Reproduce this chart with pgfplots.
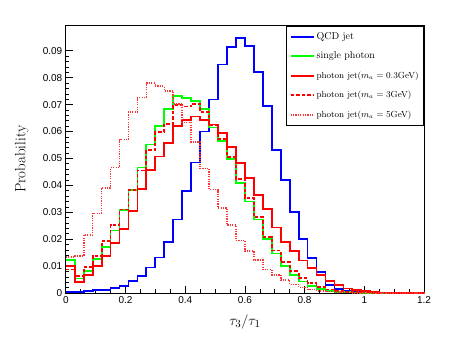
\documentclass[border=0pt]{standalone}
\usepackage{fontspec}
\usepackage{pgfplots}
\pgfplotsset{compat=1.18}
\usepackage{pgfplotstable}
\newfontfamily\hel{Liberation Sans}

% bin left edges, width 0.03; last row closes the histogram at 1.2
\pgfplotstableread{
x     qcd     photon  maA     maB     maC
0.00  0.0005  0.0122  0.0099  0.0087  0.0134
0.03  0.0005  0.0054  0.0042  0.0064  0.0137
0.06  0.0008  0.0081  0.0068  0.0097  0.0215
0.09  0.0010  0.0127  0.0099  0.0138  0.0296
0.12  0.0012  0.0170  0.0136  0.0193  0.0391
0.15  0.0018  0.0232  0.0185  0.0254  0.0466
0.18  0.0027  0.0307  0.0238  0.0310  0.0570
0.21  0.0046  0.0384  0.0306  0.0384  0.0672
0.24  0.0063  0.0466  0.0385  0.0455  0.0726
0.27  0.0095  0.0552  0.0458  0.0532  0.0780
0.30  0.0132  0.0619  0.0507  0.0597  0.0768
0.33  0.0189  0.0684  0.0558  0.0628  0.0750
0.36  0.0273  0.0732  0.0619  0.0699  0.0703
0.39  0.0378  0.0723  0.0643  0.0693  0.0634
0.42  0.0485  0.0714  0.0656  0.0703  0.0560
0.45  0.0600  0.0684  0.0643  0.0672  0.0462
0.48  0.0719  0.0615  0.0626  0.0622  0.0384
0.51  0.0849  0.0565  0.0594  0.0573  0.0316
0.54  0.0913  0.0497  0.0542  0.0505  0.0252
0.57  0.0946  0.0410  0.0483  0.0423  0.0195
0.60  0.0918  0.0340  0.0427  0.0354  0.0155
0.63  0.0820  0.0273  0.0365  0.0281  0.0123
0.66  0.0696  0.0200  0.0311  0.0209  0.0088
0.69  0.0532  0.0147  0.0243  0.0158  0.0067
0.72  0.0421  0.0100  0.0189  0.0114  0.0048
0.75  0.0300  0.0068  0.0155  0.0081  0.0032
0.78  0.0200  0.0043  0.0121  0.0055  0.0021
0.81  0.0131  0.0025  0.0092  0.0036  0.0013
0.84  0.0079  0.0014  0.0068  0.0023  0.0008
0.87  0.0030  0.0008  0.0045  0.0013  0.0005
0.90  0.0015  0.0005  0.0029  0.0008  0.0003
0.93  0.0009  0.0003  0.0017  0.0005  0.0002
0.96  0.0005  0.0002  0.0010  0.0003  0.0001
0.99  0.0003  0.0001  0.0006  0.0002  0.0001
1.02  0.0001  0.0000  0.0004  0.0001  0.0000
1.05  0.0001  0.0000  0.0002  0.0000  0.0000
1.08  0.0000  0.0000  0.0001  0.0000  0.0000
1.11  0.0000  0.0000  0.0000  0.0000  0.0000
1.14  0.0000  0.0000  0.0000  0.0000  0.0000
1.17  0.0000  0.0000  0.0000  0.0000  0.0000
1.20  0.0000  0.0000  0.0000  0.0000  0.0000
}\histdata

\definecolor{rootblue}{RGB}{0,0,255}
\definecolor{rootgreen}{RGB}{0,255,0}
\definecolor{rootred}{RGB}{255,0,0}

\begin{document}
\begin{tikzpicture}
\path[use as bounding box] (0,0) rectangle (458pt,343pt);
\begin{axis}[
    at={(65.8pt,50pt)}, anchor=south west,
    scale only axis, width=358.2pt, height=267.3pt,
    xmin=0, xmax=1.2, ymin=0, ymax=0.0993,
    xtick={0,0.2,0.4,0.6,0.8,1,1.2},
    ytick={0,0.01,0.02,0.03,0.04,0.05,0.06,0.07,0.08,0.09},
    minor x tick num=3, minor y tick num=4,
    tick align=inside, xtick pos=bottom, ytick pos=left,
    major tick length=7pt, minor tick length=3.5pt,
    scaled x ticks=false, scaled y ticks=false,
    /pgf/number format/fixed, /pgf/number format/precision=2,
    /pgf/number format/assume math mode=true,
    tick label style={font=\hel\fontsize{10}{12}\selectfont},
    axis line style={line width=0.8pt},
    every tick/.style={black, line width=0.6pt},
    clip=false,
    xlabel={$\tau_3/\tau_1$},
    ylabel={Probability},
    x label style={at={(axis description cs:0.5,-0.108)}, anchor=center, font=\fontsize{15}{18}\selectfont},
    y label style={at={(axis description cs:-0.123,0.5)}, anchor=center, font=\fontsize{15}{18}\selectfont},
    legend style={at={(1,1)}, anchor=north east, draw=black, line width=0.8pt, fill=white,
        inner xsep=3pt, inner ysep=1pt, row sep=0pt,
        nodes={text height=7pt, text depth=2.5pt, inner ysep=5pt, inner xsep=2pt},
        font=\fontsize{10}{12}\selectfont},
    legend cell align=left,
    legend image code/.code={\draw[#1] (0pt,0pt) -- (23pt,0pt);},
]
\addplot[const plot, color=rootblue, line width=1.8pt] table[x=x, y=qcd] {\histdata};
\addlegendentry{QCD jet}
\addplot[const plot, color=rootgreen, line width=1.8pt] table[x=x, y=photon] {\histdata};
\addlegendentry{single photon}
\addplot[const plot, color=rootred, line width=1.8pt] table[x=x, y=maA] {\histdata};
\addlegendentry{\fontsize{8.8}{10}\selectfont photon jet($m_a=0.3$GeV)}
\addplot[const plot, color=rootred, line width=1.8pt, dash pattern=on 3.5pt off 2pt] table[x=x, y=maB] {\histdata};
\addlegendentry{\fontsize{8.8}{10}\selectfont photon jet($m_a=3$GeV)}
\addplot[const plot, color=rootred!80, line width=1.6pt, dash pattern=on 1.2pt off 1.2pt] table[x=x, y=maC] {\histdata};
\addlegendentry{\fontsize{8.8}{10}\selectfont photon jet($m_a=5$GeV)}
\end{axis}
\end{tikzpicture}
\end{document}
